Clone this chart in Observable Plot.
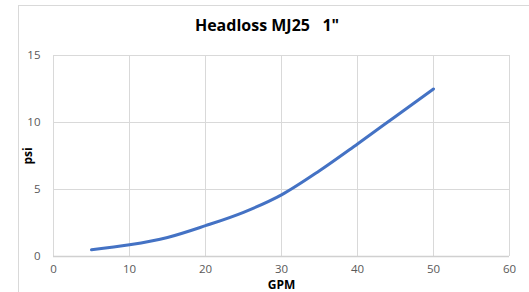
<!DOCTYPE html>
<html><head><meta charset="utf-8">
<script src="https://cdn.jsdelivr.net/npm/d3@7"></script>
<script src="https://cdn.jsdelivr.net/npm/@observablehq/plot@0.6"></script>
<style>
body{margin:0;background:#fff;width:529px;height:292px;overflow:hidden;position:relative;font-family:"Open Sans",sans-serif;}
#frame{position:absolute;left:18px;top:5px;width:600px;height:400px;border:1px solid #d9d9d9;}
#title{position:absolute;left:0;width:534px;top:14px;text-align:center;font-size:16px;font-weight:bold;color:#000;white-space:pre;}
#chart{position:absolute;left:0;top:0;}
#chart [aria-label="x-axis label"] text, #chart [aria-label="y-axis label"] text{font-weight:bold;fill:#000;font-size:12px;}
</style></head><body>
<div id="frame"></div>
<div id="title">Headloss MJ25   1"</div>
<div id="chart"></div>
<script>
const gpm = [5, 10, 15, 20, 25, 30, 35, 40, 45, 50];
const psi = [0.5, 0.87, 1.42, 2.3, 3.3, 4.6, 6.4, 8.4, 10.45, 12.5];
const xTicks = [0, 10, 20, 30, 40, 50, 60];
const yTicks = [0, 5, 10, 15];
const data = gpm.map((g, i) => ({gpm: g, psi: psi[i]}));

const chart = Plot.plot({
  width: 529, height: 292,
  marginLeft: 53, marginRight: 20, marginTop: 55, marginBottom: 36,
  style: {fontFamily: '"Open Sans", sans-serif', fontSize: "11.5px", color: "#595959", background: "transparent"},
  x: {domain: [0, 60], ticks: xTicks, label: "GPM", labelAnchor: "center", labelArrow: "none", labelOffset: 32.5, tickSize: 0, tickPadding: 8},
  y: {domain: [0, 15], ticks: yTicks, label: "psi", labelAnchor: "center", labelArrow: "none", labelOffset: 30, tickSize: 0, tickPadding: 13},
  marks: [
    Plot.gridX(xTicks, {stroke: "#d9d9d9", strokeOpacity: 1, strokeWidth: 1}),
    Plot.gridY(yTicks, {stroke: "#d9d9d9", strokeOpacity: 1, strokeWidth: 1}),
    Plot.ruleY([0], {stroke: "#d0d0d0", strokeWidth: 1.5}),
    Plot.line(data, {x: "gpm", y: "psi", stroke: "#4472C4", strokeWidth: 3, curve: "monotone-x", strokeLinecap: "round"})
  ]
});
document.getElementById("chart").appendChild(chart);
</script>
</body></html>
